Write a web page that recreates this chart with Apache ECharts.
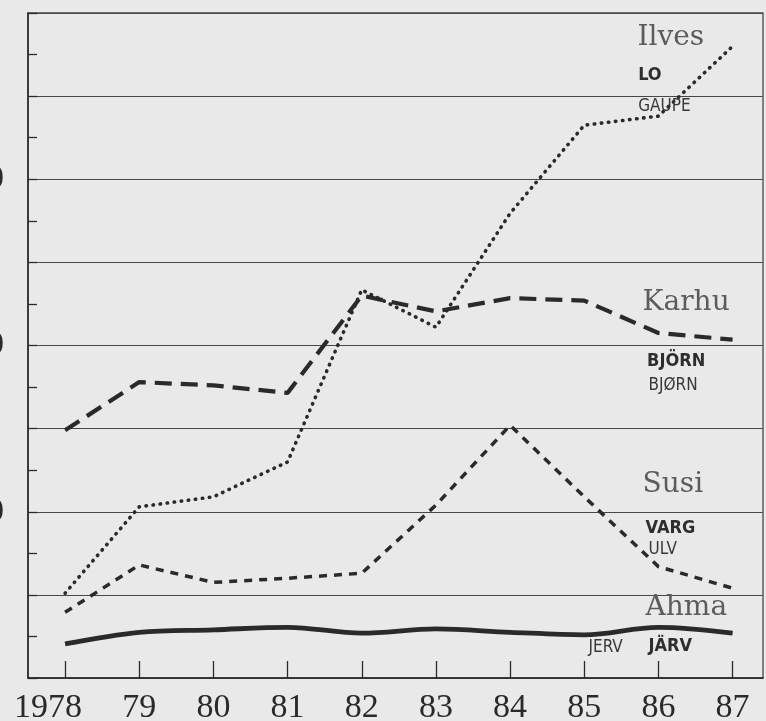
<!DOCTYPE html>
<html>
<head>
<meta charset="utf-8">
<script src="https://cdn.jsdelivr.net/npm/echarts@6/dist/echarts.min.js"></script>
<style>
  html, body { margin: 0; padding: 0; background: #e9e9e9; }
  #chart { width: 766px; height: 721px; }
</style>
</head>
<body>
<div id="chart"></div>
<script>
// years on the x axis
const years = [1978, 1979, 1980, 1981, 1982, 1983, 1984, 1985, 1986, 1987];

// (gridline = 100 units)
const ilves = [102, 206, 218, 260, 467, 422, 559, 665, 676, 760];
const karhu = [298, 356, 352, 343, 460, 441, 457, 454, 415, 407];
const susi  = [79, 136, 115, 120, 126, 208, 304, 218, 134, 108];
const ahma  = [41, 55, 58, 61, 54, 59, 55, 52, 61, 54];

// y labels only partly visible at the left edge of the scan
const yLabelValues = [200, 400, 600];

// name tags beside the lines: [x, y] in data units
const serifTags = [
    { text: 'Ilves', at: [1985.71, 770] },
    { text: 'Karhu', at: [1985.78, 452] },
    { text: 'Susi',  at: [1985.78, 232] },
    { text: 'Ahma',  at: [1985.82, 85] }
];
const boldTags = [
    { text: 'LO',    at: [1985.72, 725] },
    { text: 'BJÖRN', at: [1985.84, 381] },
    { text: 'VARG',  at: [1985.82, 180] },
    { text: 'JÄRV',  at: [1985.86, 38] }
];
const plainTags = [
    { text: 'GAUPE', at: [1985.72, 687] },
    { text: 'BJØRN', at: [1985.86, 352] },
    { text: 'ULV',   at: [1985.86, 154] },
    { text: 'JERV',  at: [1985.05, 37] }
];

const ink = '#2a2a2a';
const gridInk = '#474747';

const tagItem = (t, style) => ({
    coord: t.at,
    value: t.text,
    label: Object.assign({
        show: true,
        formatter: t.text,
        position: 'right',
        distance: 0,
        align: 'left',
        verticalAlign: 'middle'
    }, style)
});

const sansNarrow = '"Liberation Sans Narrow", "DejaVu Sans Condensed", "Roboto Condensed", sans-serif';
const serifStyle = { fontFamily: 'DejaVu Serif', fontSize: 28, color: '#5c5c5c' };
const boldStyle = { fontFamily: sansNarrow, fontSize: 18, fontWeight: 'bold', color: '#2e2e2e' };
const plainStyle = { fontFamily: sansNarrow, fontSize: 17, color: '#383838' };

const tagMarks = {
    silent: true,
    symbol: 'circle',
    symbolSize: 1,
    itemStyle: { color: 'rgba(0,0,0,0)' },
    data: [].concat(
        serifTags.map(t => tagItem(t, serifStyle)),
        boldTags.map(t => tagItem(t, boldStyle)),
        plainTags.map(t => tagItem(t, plainStyle))
    )
};

const pairs = vals => years.map((y, i) => [y, vals[i]]);

const chart = echarts.init(document.getElementById('chart'));

const option = {
    backgroundColor: '#e9e9e9',
    animation: false,
    grid: {
        left: 28, right: 3, top: 13, bottom: 43,
        outerBoundsMode: 'none',
        show: true,
        borderColor: gridInk,
        borderWidth: 1.3,
        backgroundColor: 'transparent'
    },
    xAxis: {
        type: 'value',
        min: 1977.5,
        max: 1987.41,
        splitLine: { show: false },
        axisLine: { show: true, lineStyle: { color: ink, width: 1.6 } },
        axisTick: {
            show: true, inside: true, length: 17,
            customValues: years,
            lineStyle: { color: ink, width: 1.3 }
        },
        axisLabel: {
            customValues: years,
            margin: 13,
            fontFamily: 'Liberation Serif',
            fontSize: 34,
            color: '#2a2a2a',
            formatter: v => v === 1978 ? '{y|1978}{s| }' : String(v).slice(2),
            rich: {
                y: { fontFamily: 'Liberation Serif', fontSize: 34, color: '#2a2a2a' },
                s: { width: 34, fontSize: 34 }
            }
        }
    },
    yAxis: {
        type: 'value',
        min: 0,
        max: 800,
        interval: 100,
        axisLine: { show: true, lineStyle: { color: ink, width: 1.6 } },
        axisTick: { show: true, inside: true, length: 9, lineStyle: { color: ink, width: 1.3 } },
        minorTick: { show: true, splitNumber: 2, length: 9, lineStyle: { color: ink, width: 1.3 } },
        splitLine: { show: true, lineStyle: { color: gridInk, width: 1.2 } },
        axisLabel: {
            margin: 24,
            fontFamily: 'Liberation Serif',
            fontSize: 34,
            color: '#2a2a2a',
            formatter: v => yLabelValues.includes(v) ? String(v) : ''
        }
    },
    series: [
        {
            name: 'Ilves', type: 'line', data: pairs(ilves), symbol: 'none',
            lineStyle: { color: ink, width: 3.6, type: [0.5, 6.6], cap: 'round' },
            markPoint: tagMarks
        },
        {
            name: 'Karhu', type: 'line', data: pairs(karhu), symbol: 'none',
            lineStyle: { color: ink, width: 4.2, type: [17, 9] }
        },
        {
            name: 'Susi', type: 'line', data: pairs(susi), symbol: 'none',
            lineStyle: { color: ink, width: 3.5, type: [8, 7] }
        },
        {
            name: 'Ahma', type: 'line', data: pairs(ahma), symbol: 'none', smooth: 0.35,
            lineStyle: { color: ink, width: 4.8 }
        }
    ]
};

chart.setOption(option);
</script>
</body>
</html>
